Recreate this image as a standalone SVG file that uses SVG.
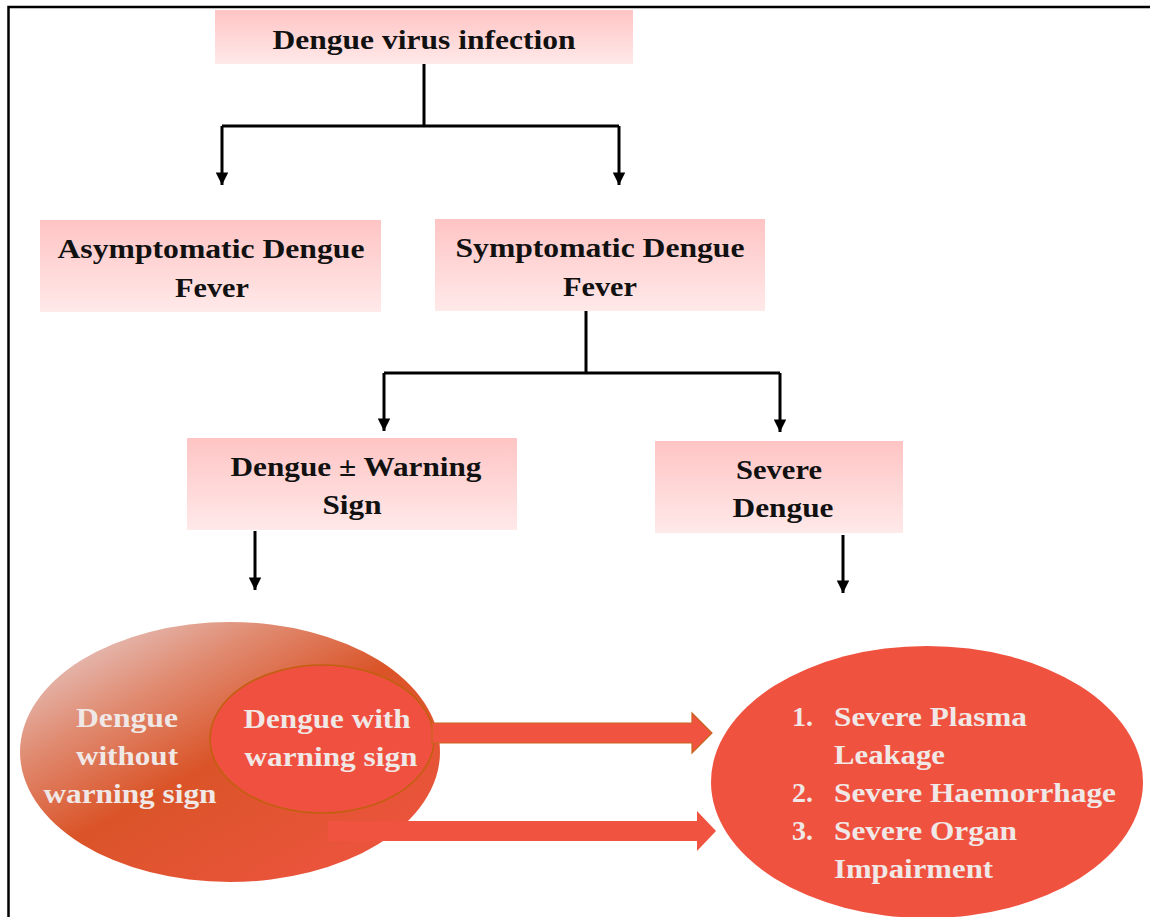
<svg xmlns="http://www.w3.org/2000/svg" width="1150" height="917" viewBox="0 0 1150 917">
  <defs>
    <linearGradient id="boxFill" x1="0" y1="0" x2="0" y2="1">
      <stop offset="0" stop-color="#ffc4c4"/>
      <stop offset="1" stop-color="#ffe9e9"/>
    </linearGradient>
    <linearGradient id="outerFill" x1="0.1" y1="0.05" x2="0.9" y2="0.95">
      <stop offset="0" stop-color="#e6c8c4"/>
      <stop offset="0.25" stop-color="#e08a70"/>
      <stop offset="0.5" stop-color="#da5428"/>
      <stop offset="1" stop-color="#ee5440"/>
    </linearGradient>
    <marker id="head" viewBox="0 0 10 10" refX="10" refY="5" markerWidth="4.2" markerHeight="4.2" orient="auto" markerUnits="strokeWidth">
      <path d="M0,0 L10,5 L0,10 Z" fill="#000"/>
    </marker>
    <style>
      .box { fill: url(#boxFill); }
      .lbl { font-family: "Liberation Serif", "Times New Roman", serif; font-weight: bold; font-size: 28px; fill: #111; text-anchor: middle; }
      .wlbl { font-family: "Liberation Serif", "Times New Roman", serif; font-weight: bold; font-size: 28px; fill: #f0e8e6; }
      .wc { text-anchor: middle; }
      .wire { fill: none; stroke: #000; stroke-width: 3; }
      .arr { fill: none; stroke: #000; stroke-width: 3; marker-end: url(#head); }
      .block { fill: #f05340; }
    </style>
  </defs>

  <rect width="1150" height="917" fill="#fff"/>

  <!-- frame -->
  <path d="M8.5,917 V7 H1150" fill="none" stroke="#000" stroke-width="2.5"/>

  <!-- connectors -->
  <g id="connectors">
    <path class="wire" d="M424,64 V126 M222,126 H619"/>
    <path class="arr" d="M222,126 V185"/>
    <path class="arr" d="M619,126 V185"/>
    <path class="wire" d="M586,311 V373 M384,373 H780"/>
    <path class="arr" d="M384,373 V431"/>
    <path class="arr" d="M780,373 V432"/>
    <path class="arr" d="M255,531 V590"/>
    <path class="arr" d="M843,535 V593"/>
  </g>

  <g id="n-infection">
    <rect class="box" x="215" y="10" width="418" height="54"/>
    <text class="lbl" x="424" y="49" textLength="303" lengthAdjust="spacingAndGlyphs">Dengue virus infection</text>
  </g>

  <g id="n-asymptomatic">
    <rect class="box" x="40" y="220" width="341" height="92"/>
    <text class="lbl" x="211" y="258" textLength="307" lengthAdjust="spacingAndGlyphs">Asymptomatic Dengue</text>
    <text class="lbl" x="212" y="297" textLength="74" lengthAdjust="spacingAndGlyphs">Fever</text>
  </g>

  <g id="n-symptomatic">
    <rect class="box" x="435" y="219" width="330" height="92"/>
    <text class="lbl" x="600" y="257" textLength="289" lengthAdjust="spacingAndGlyphs">Symptomatic Dengue</text>
    <text class="lbl" x="600" y="296" textLength="74" lengthAdjust="spacingAndGlyphs">Fever</text>
  </g>

  <g id="n-warning">
    <rect class="box" x="187" y="438" width="330" height="92"/>
    <text class="lbl" x="356" y="476" textLength="251" lengthAdjust="spacingAndGlyphs">Dengue ± Warning</text>
    <text class="lbl" x="352" y="514" textLength="59" lengthAdjust="spacingAndGlyphs">Sign</text>
  </g>

  <g id="n-severe">
    <rect class="box" x="655" y="441" width="248" height="92"/>
    <text class="lbl" x="779" y="479" textLength="86" lengthAdjust="spacingAndGlyphs">Severe</text>
    <text class="lbl" x="783" y="517" textLength="101" lengthAdjust="spacingAndGlyphs">Dengue</text>
  </g>

  <g id="n-spectrum">
    <ellipse cx="230" cy="752" rx="210" ry="130" fill="url(#outerFill)"/>
    <text class="wlbl wc" x="127" y="727" textLength="102" lengthAdjust="spacingAndGlyphs">Dengue</text>
    <text class="wlbl wc" x="127" y="765" textLength="102" lengthAdjust="spacingAndGlyphs">without</text>
    <text class="wlbl wc" x="130" y="803" textLength="173" lengthAdjust="spacingAndGlyphs">warning sign</text>
  </g>

  <g id="n-with-warning">
    <ellipse cx="322" cy="739" rx="112" ry="74" fill="#f05040" stroke="#c0600f" stroke-width="1.5"/>
    <text class="wlbl wc" x="327" y="728" textLength="167" lengthAdjust="spacingAndGlyphs">Dengue with</text>
    <text class="wlbl wc" x="331" y="766" textLength="173" lengthAdjust="spacingAndGlyphs">warning sign</text>
  </g>

  <!-- broad arrows between the spectrum and severe outcomes -->
  <g id="broad-arrows">
    <path class="block" d="M328,821 H697 V811 L716,831 L697,851 V841 H328 Z"/>
    <path class="block" d="M432,723 H692 V713 L712,733 L692,753 V743 H432 Z" stroke="#c8641e" stroke-width="1.2"/>
  </g>

  <g id="n-outcomes">
    <ellipse cx="927" cy="782" rx="216" ry="136" fill="#f05240"/>
    <text class="wlbl" x="792" y="726">1.</text>
    <text class="wlbl" x="834" y="726" textLength="193" lengthAdjust="spacingAndGlyphs">Severe Plasma</text>
    <text class="wlbl" x="834" y="764" textLength="111" lengthAdjust="spacingAndGlyphs">Leakage</text>
    <text class="wlbl" x="792" y="802">2.</text>
    <text class="wlbl" x="834" y="802" textLength="282" lengthAdjust="spacingAndGlyphs">Severe Haemorrhage</text>
    <text class="wlbl" x="792" y="840">3.</text>
    <text class="wlbl" x="834" y="840" textLength="183" lengthAdjust="spacingAndGlyphs">Severe Organ</text>
    <text class="wlbl" x="834" y="878" textLength="159" lengthAdjust="spacingAndGlyphs">Impairment</text>
  </g>
</svg>
